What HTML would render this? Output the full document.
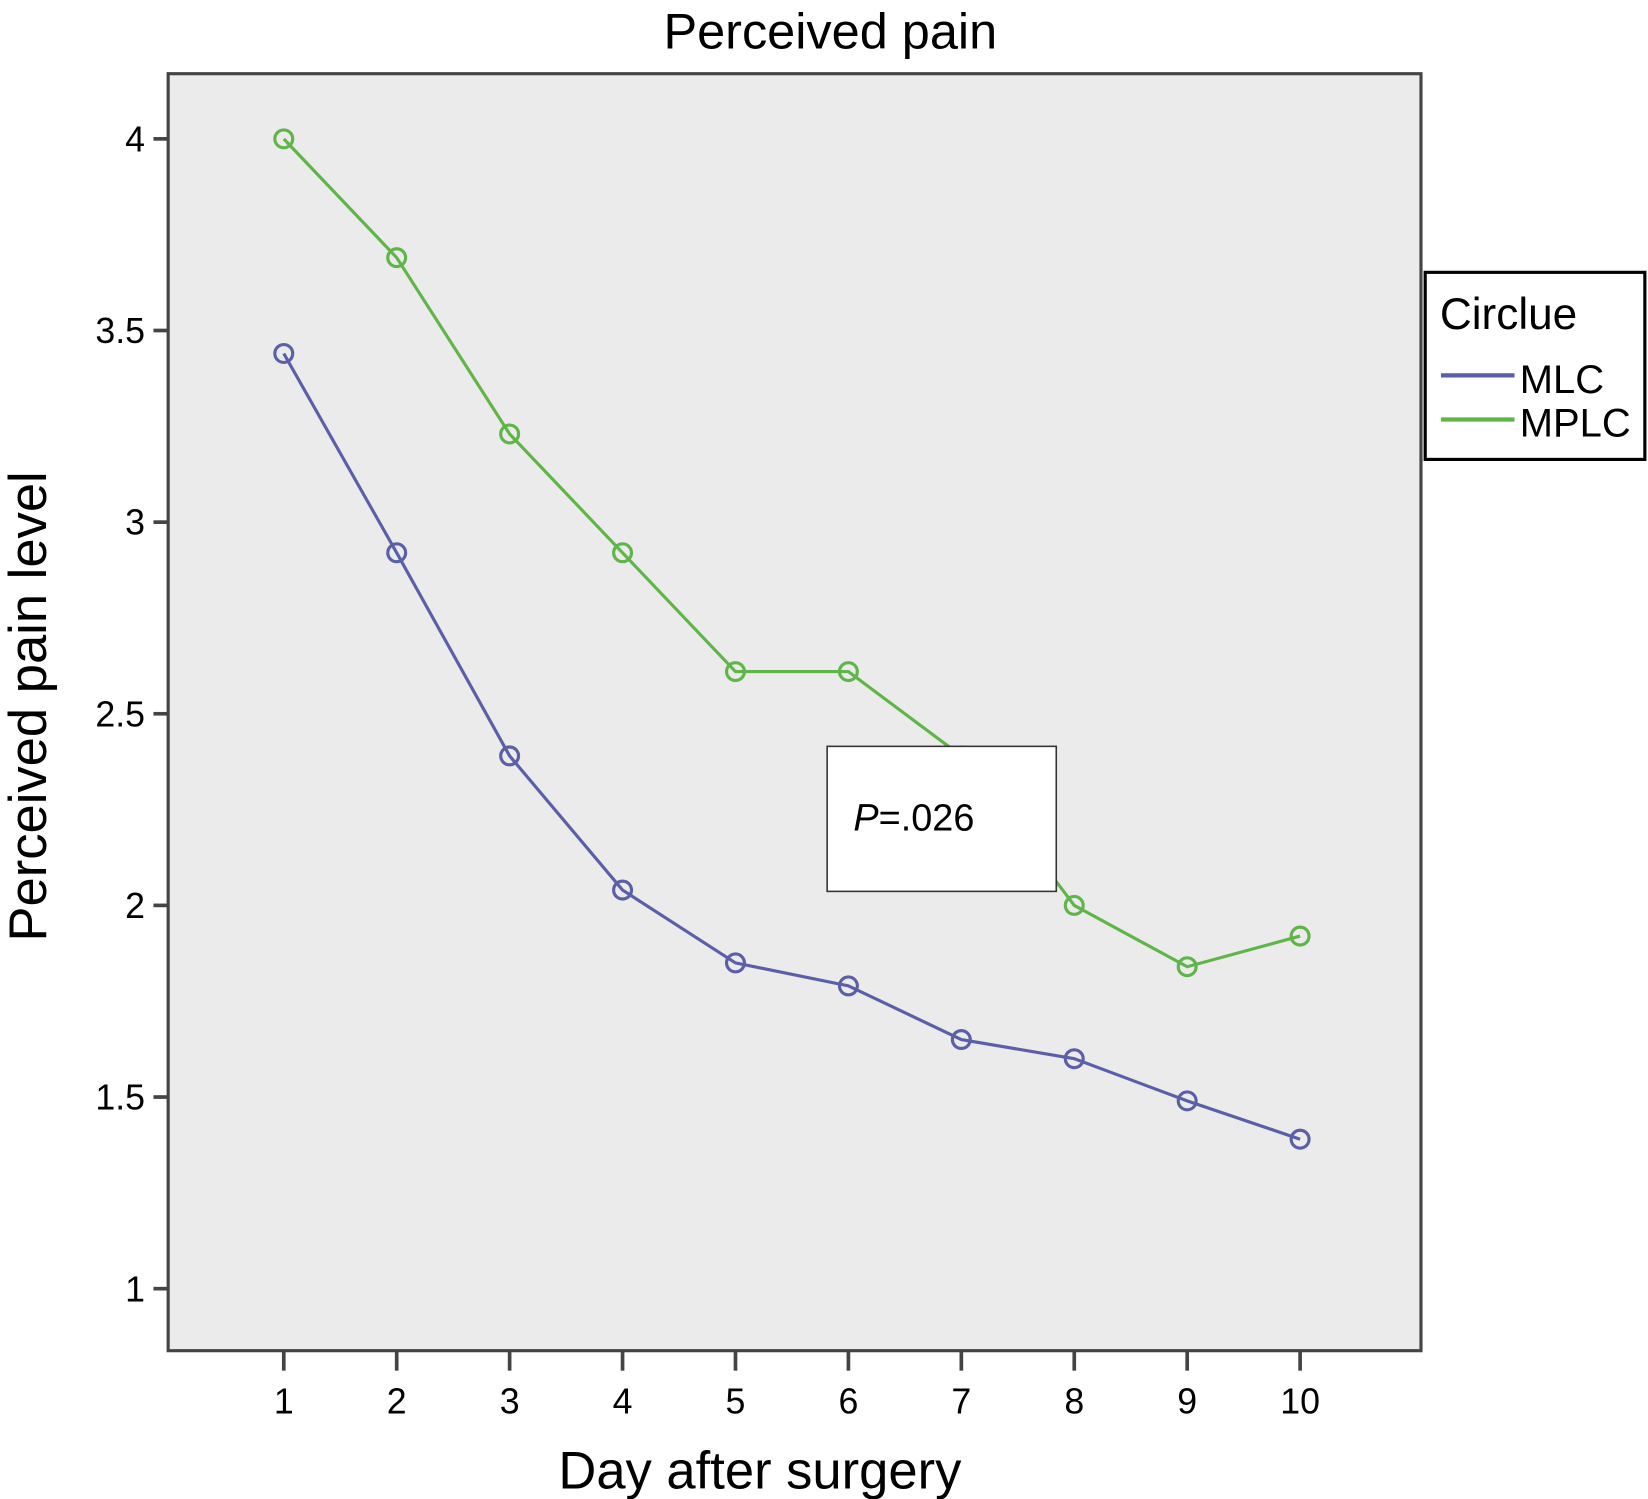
<!DOCTYPE html>
<html><head><meta charset="utf-8"><style>html,body{margin:0;padding:0;background:#fff}svg{display:block}text{font-family:"Liberation Sans",sans-serif;fill:#000}</style></head>
<body>
<svg width="1648" height="1499" viewBox="0 0 1568 1426" xmlns="http://www.w3.org/2000/svg">
<text x="790" y="46" font-size="48" text-anchor="middle">Perceived pain</text>
<rect x="160" y="70" width="1192" height="1215" fill="#ebebeb" stroke="#444" stroke-width="3"/>
<g id="yticks"></g><g id="xticks"></g>
<g id="series"></g>
<rect x="787" y="710" width="218" height="138" fill="#fff" stroke="#333" stroke-width="1.5"/>
<text x="812" y="790" font-size="36"><tspan font-style="italic">P</tspan>=.026</text>
<text transform="translate(44,672) rotate(-90)" font-size="50" text-anchor="middle">Perceived pain level</text>
<text x="723" y="1416" font-size="50" text-anchor="middle">Day after surgery</text>
<g>
<rect x="1356" y="259" width="209" height="178" fill="#fff" stroke="#000" stroke-width="3"/>
<text x="1370" y="313" font-size="42">Circlue</text>
<line x1="1371" y1="357" x2="1441" y2="357" stroke="#5a5fa8" stroke-width="4"/>
<text x="1446" y="374" font-size="38">MLC</text>
<line x1="1371" y1="399" x2="1441" y2="399" stroke="#5fb548" stroke-width="4"/>
<text x="1446" y="415" font-size="38">MPLC</text>
</g>
</svg>
<script>
const days=[1,2,3,4,5,6,7,8,9,10];
const mlc=[3.44,2.92,2.39,2.04,1.85,1.79,1.65,1.60,1.49,1.39];
const mplc=[4.0,3.69,3.23,2.92,2.61,2.61,2.39,2.0,1.84,1.92];
const yTicks=[1,1.5,2,2.5,3,3.5,4];
const NS='http://www.w3.org/2000/svg';
function xs(d){return 270+(d-1)*(1237-270)/9;}
function ys(v){return 1226-(v-1)*(1226-132)/3;}
function mk(tag,attrs,parent){const e=document.createElementNS(NS,tag);for(const k in attrs)e.setAttribute(k,attrs[k]);document.getElementById(parent).appendChild(e);return e;}
yTicks.forEach(t=>{
  const l=mk('line',{x1:146,x2:160,y1:ys(t),y2:ys(t),stroke:'#444','stroke-width':3.5},'yticks');
  
  
  const tx=mk('text',{x:138,y:ys(t)+12,'font-size':34,'text-anchor':'end'},'yticks');
  tx.textContent=String(t);
  
  
});
days.forEach(d=>{
  const l=mk('line',{x1:xs(d),x2:xs(d),y1:1285,y2:1304,stroke:'#444','stroke-width':3.5},'xticks');
  
  
  const tx=mk('text',{x:xs(d),y:1345,'font-size':34,'text-anchor':'middle'},'xticks');
  tx.textContent=String(d);
  
  
});
function series(vals,color,name){
  const pl=mk('polyline',{points:vals.map((v,i)=>xs(days[i])+','+ys(v)).join(' '),fill:'none',stroke:color,'stroke-width':3},'series');
  
  
  vals.forEach((v,i)=>{
    const c=mk('circle',{cx:xs(days[i]),cy:ys(v),r:8.5,fill:'none',stroke:color,'stroke-width':3},'series');
    
    
  });
}
series(mlc,'#5a5fa8','mlc');
series(mplc,'#5fb548','mplc');
</script>
</body></html>
